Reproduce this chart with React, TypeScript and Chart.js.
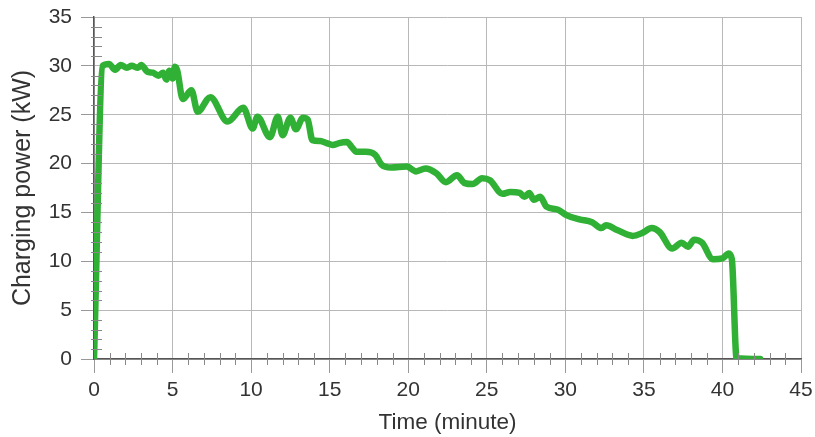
import React, { useEffect, useRef } from "react";
import { Chart, registerables } from "chart.js";

Chart.register(...registerables);

const timeMinutes: number[] = [
  0, 0.55, 0.95, 1.35, 1.7, 2.1, 2.4, 2.8, 3.0, 3.4, 3.75, 4.1, 4.4, 4.6, 4.8, 5.0, 5.15, 5.3, 5.65, 6.2,
  6.6, 7.4, 8.5, 9.5, 10.1, 10.4, 11.2, 11.7, 12.0, 12.5, 12.85, 13.3, 13.6, 13.9, 14.4, 14.8, 15.2, 15.6,
  16.1, 16.4, 16.7, 17.3, 17.9, 18.3, 18.9, 19.9, 20.5, 21.1, 21.8, 22.4, 23.1, 23.6, 24.1, 24.7, 25.2,
  26.0, 26.5, 27.1, 27.4, 27.7, 28.0, 28.4, 28.8, 29.5, 30.1, 30.9, 31.7, 32.3, 32.6, 33.3, 34.3, 34.9,
  35.5, 36.0, 36.8, 37.4, 37.8, 38.2, 38.7, 39.4, 40.0, 40.4, 40.6, 40.9, 42.4,
];

const powerKW: number[] = [
  0, 30.0, 30.2, 29.6, 30.1, 29.8, 30.0, 29.8, 30.1, 29.4, 29.3, 29.0, 29.3, 28.6, 29.5, 28.7, 29.9, 29.5,
  26.6, 27.5, 25.3, 26.8, 24.3, 25.7, 23.6, 24.8, 22.7, 24.8, 22.9, 24.7, 23.5, 24.7, 24.5, 22.4, 22.3,
  22.1, 21.9, 22.1, 22.2, 21.7, 21.2, 21.2, 20.9, 19.9, 19.6, 19.7, 19.2, 19.5, 19.0, 18.1, 18.8, 18.0,
  17.9, 18.5, 18.3, 16.9, 17.1, 17.0, 16.6, 17.0, 16.3, 16.6, 15.6, 15.3, 14.7, 14.3, 14.0, 13.4, 13.7,
  13.2, 12.6, 12.9, 13.4, 13.0, 11.3, 11.9, 11.5, 12.2, 11.9, 10.2, 10.3, 10.8, 10.2, 0.1, 0,
];

const xMin = 0;
const xMax = 45;
const xStep = 5;
const yMin = 0;
const yMax = 35;
const yStep = 5;
const minorStep = 1;

const xTitle = "Time (minute)";
const yTitle = "Charging power (kW)";

const FONT = "'Liberation Sans', Arial, Helvetica, sans-serif";

const minorTicksPlugin = {
  id: "minorTicks",
  afterDatasetsDraw(chart: any) {
    const { ctx, scales } = chart;
    const xs = scales.x;
    const ys = scales.y;
    ctx.save();
    ctx.lineWidth = 1;
    ctx.strokeStyle = "#888888";
    const yAxisPx = xs.getPixelForValue(xMin);
    const xAxisPx = ys.getPixelForValue(yMin);
    for (let v = xMin + minorStep; v < xMax; v += minorStep) {
      if (v % xStep === 0) continue;
      const px = Math.round(xs.getPixelForValue(v)) + 0.5;
      ctx.beginPath();
      ctx.moveTo(px, xAxisPx - 6);
      ctx.lineTo(px, xAxisPx + 6);
      ctx.stroke();
    }
    for (let v = yMin + minorStep; v < yMax; v += minorStep) {
      if (v % yStep === 0) continue;
      const py = Math.round(ys.getPixelForValue(v)) + 0.5;
      ctx.beginPath();
      ctx.moveTo(yAxisPx - 3, py);
      ctx.lineTo(yAxisPx + 8, py);
      ctx.stroke();
    }
    ctx.restore();
  },
};

export default function App() {
  const canvasRef = useRef<HTMLCanvasElement | null>(null);

  useEffect(() => {
    document.body.style.margin = "0";
    const canvas = canvasRef.current;
    if (!canvas) return;
    const points = timeMinutes.map((t, i) => ({ x: t, y: powerKW[i] }));
    const chart = new Chart(canvas, {
      type: "line",
      data: {
        datasets: [
          {
            data: points,
            borderColor: "#30b035",
            borderWidth: 6.5,
            pointRadius: 0,
            cubicInterpolationMode: "monotone",
            borderCapStyle: "round",
            borderJoinStyle: "round",
            fill: false,
          },
        ],
      },
      options: {
        animation: false,
        responsive: false,
        maintainAspectRatio: false,
        layout: { padding: { left: 0, right: 14, top: 17, bottom: 0 } },
        plugins: { legend: { display: false }, tooltip: { enabled: false } },
        scales: {
          x: {
            type: "linear",
            min: xMin,
            max: xMax,
            ticks: {
              stepSize: xStep,
              color: "#333333",
              font: { family: FONT, size: 21 },
              padding: 5,
              maxRotation: 0,
            },
            grid: { color: "#b8b8b8", tickLength: 14, tickColor: "#999999", lineWidth: 1 },
            border: { color: "#555555", width: 1.5 },
            title: {
              display: true,
              text: xTitle,
              color: "#333333",
              font: { family: FONT, size: 22.5 },
              padding: { top: 2, bottom: 1 },
            },
            afterFit(scale: any) {
              scale.height = 78;
              scale.paddingLeft = 0;
              scale.paddingRight = 0;
            },
          },
          y: {
            type: "linear",
            min: yMin,
            max: yMax,
            ticks: {
              stepSize: yStep,
              color: "#333333",
              font: { family: FONT, size: 21, lineHeight: 1 },
              padding: 9,
            },
            grid: { color: "#b8b8b8", tickLength: 13, tickColor: "#999999", lineWidth: 1 },
            border: { color: "#555555", width: 1.5 },
            title: {
              display: true,
              text: yTitle,
              color: "#333333",
              font: { family: FONT, size: 25 },
              padding: { top: 8, bottom: 4 },
            },
            afterFit(scale: any) {
              scale.width = 94;
              scale.paddingTop = 0;
              scale.paddingBottom = 0;
            },
          },
        },
      },
      plugins: [minorTicksPlugin],
    } as any);
    return () => chart.destroy();
  }, []);

  return (
    <div style={{ position: "absolute", left: 0, top: 0, width: 815, height: 437 }}>
      <canvas ref={canvasRef} width={815} height={437} style={{ width: 815, height: 437 }} />
    </div>
  );
}
